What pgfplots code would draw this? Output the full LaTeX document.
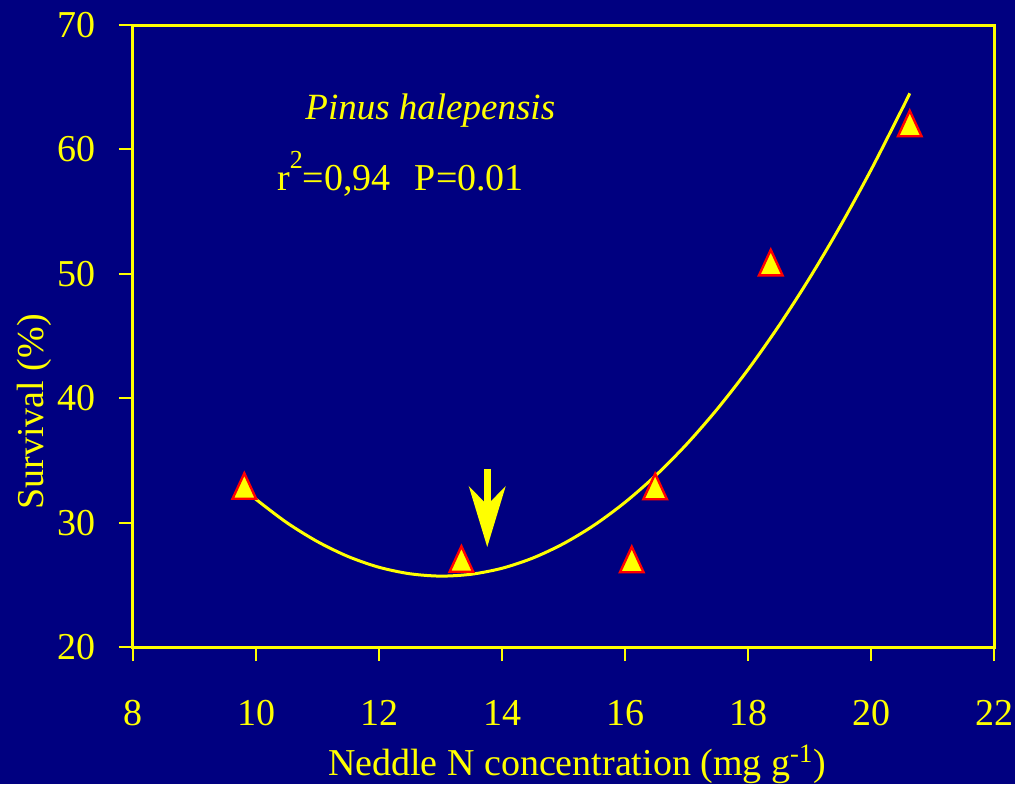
\documentclass[border=0pt]{standalone}
\usepackage{fontspec}
\setmainfont{Liberation Serif}
\usepackage{pgfplots}
\pgfplotsset{compat=1.18}
\usetikzlibrary{arrows.meta}
\definecolor{bg}{RGB}{0,0,128}
\definecolor{yel}{RGB}{255,255,0}
\definecolor{mred}{RGB}{255,0,0}
\begin{document}
\begin{tikzpicture}
\fill[bg] (-66.5pt,-68.5pt) rectangle (441pt,323.5pt);
\begin{axis}[
  at={(0,0)}, anchor=south west,
  scale only axis, width=430.5pt, height=311pt,
  xmin=8, xmax=22, ymin=20, ymax=70,
  xtick={8,10,...,22}, ytick={20,30,...,70},
  axis line style={yel, line width=1.5pt},
  tick style={yel, line width=1pt},
  major tick length=7pt, tick align=outside,
  xtick pos=bottom, ytick pos=left,
  /pgf/number format/assume math mode=true,
  ticklabel style={font=\fontsize{19}{22}\selectfont, text=yel},
  xticklabel style={yshift=-16pt},
  yticklabel style={xshift=-8pt},
  label style={font=\fontsize{19}{22}\selectfont, text=yel},
  xlabel={Neddle N concentration (mg g\textsuperscript{-1})},
  ylabel={Survival (\%)},
  xlabel style={at={(axis description cs:0.5157,-0.2058)}, anchor=base},
  ylabel style={at={(axis description cs:-0.1045,0.378)}, anchor=base},
]
\addplot[yel, line width=1.5pt, smooth, no marks] coordinates {
(9.81,32.67) (10.0,31.87) (10.5,30.00) (11.0,28.47) (11.5,27.27) (12.0,26.41)
(12.5,25.89) (13.0,25.70) (13.5,25.85) (14.0,26.33) (14.5,27.15) (15.0,28.31)
(15.5,29.80) (16.0,31.63) (16.5,33.79) (17.0,36.29) (17.5,39.13) (18.0,42.30)
(18.5,45.81) (19.0,49.65) (19.5,53.83) (20.0,58.35) (20.5,63.20) (20.63,64.51)
};
\addplot[only marks, mark=triangle*, mark size=8.5pt,
  mark options={fill=yel, draw=mred, line width=1.2pt, xscale=0.8, yshift=-2.1pt}]
  coordinates {
(9.81,32.94) (13.34,27.07) (16.11,27.03) (16.49,32.9) (18.37,50.9) (20.63,62.08)
};
\draw[yel, line width=3.5pt, -{Stealth[length=30.5pt, width=18.5pt, inset=9.5pt, line width=0pt]}]
  (axis cs:13.76,34.31) -- (axis cs:13.76,28.04);
\node[anchor=base west, inner sep=0pt, text=yel, font=\fontsize{18.5}{22}\selectfont\itshape]
  at (axis cs:10.797,62.44) {Pinus halepensis};
\node[anchor=base west, inner sep=0pt, text=yel, font=\fontsize{19}{22}\selectfont]
  at (axis cs:10.34,56.66) {r\raisebox{11pt}{\fontsize{13}{13}\selectfont 2}=0,94\hspace{12pt}P=0.01};
\end{axis}
\pgfresetboundingbox
\path (-66.5pt,-68.5pt) rectangle (441pt,323.5pt);
\end{tikzpicture}
\end{document}
